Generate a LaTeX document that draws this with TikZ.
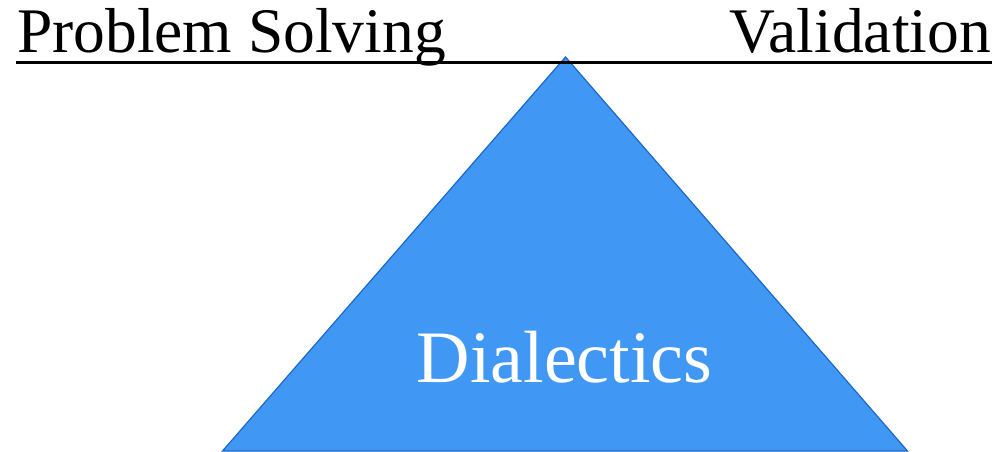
\documentclass[tikz,border=0pt]{standalone}
\usepackage{fontspec}
\setmainfont{Liberation Serif}
\definecolor{trifill}{HTML}{4197F4}
\definecolor{triedge}{HTML}{1B68C8}
\tikzset{
  lbl/.style={inner sep=0pt, font=\fontsize{63.5}{70}\selectfont},
  tri/.style={fill=trifill, draw=triedge, line width=1.2pt, line join=miter}
}
\begin{document}
\begin{tikzpicture}[x=1pt,y=-1pt]
\useasboundingbox (0,0) rectangle (996,452);
\coordinate (apex) at (565.5,57);
\coordinate (bl) at (222.5,451);
\coordinate (br) at (907.5,451);
\draw[tri] (apex) -- (br) -- (bl) -- cycle;
\coordinate (ls) at (16,62.5);
\coordinate (le) at (992,62.5);
\draw[line width=2.6pt] (ls) -- (le);
\node[lbl, anchor=base west] (ps) at (17,53) {Problem Solving};
\node[lbl, anchor=base east] (va) at (991,53) {Validation};
\node[inner sep=0pt, anchor=base, text=white, font=\fontsize{74}{80}\selectfont] (di) at (564.5,382) {Dialectics};
\end{tikzpicture}
\end{document}
